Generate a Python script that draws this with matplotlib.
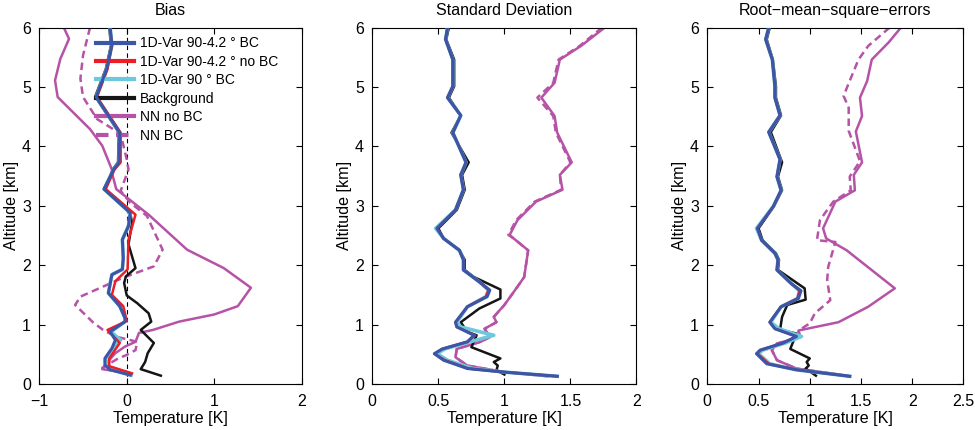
import matplotlib
matplotlib.use("Agg")
import matplotlib.pyplot as plt

plt.rcParams['font.family'] = ['Liberation Sans', 'DejaVu Sans']
plt.rcParams['font.size'] = 10

# ---------------- Bias panel ----------------
bias_blue_alt = [6.0, 5.70, 5.30, 4.83, 4.23, 3.73, 3.61, 3.28, 2.88, 2.66, 2.43, 2.12, 1.93, 1.84, 1.53, 1.31, 1.11, 1.05, 0.88, 0.74, 0.60, 0.43, 0.32, 0.24, 0.15]
bias_blue = [-0.19, -0.17, -0.23, -0.35, -0.08, -0.09, -0.15, -0.26, 0.04, 0.02, -0.05, -0.04, -0.05, -0.17, -0.21, -0.08, -0.02, -0.02, -0.19, -0.13, -0.17, -0.25, -0.25, -0.19, 0.04]
bias_cyan = [-0.19, -0.17, -0.23, -0.35, -0.08, -0.09, -0.15, -0.26, 0.04, 0.02, -0.05, -0.04, -0.05, -0.17, -0.21, -0.08, -0.02, -0.02, -0.18, -0.07, -0.16, -0.24, -0.23, -0.17, 0.05]
bias_red_alt = [6.0, 5.70, 5.30, 4.83, 4.23, 3.73, 3.61, 3.28, 2.85, 2.43, 1.93, 1.73, 1.50, 1.31, 1.06, 0.91, 0.69, 0.43, 0.30, 0.18]
bias_red = [-0.19, -0.17, -0.22, -0.34, -0.07, -0.07, -0.14, -0.24, 0.10, 0.02, 0.01, -0.13, -0.17, -0.04, 0.00, -0.22, -0.08, -0.20, -0.20, 0.06]
bias_black_alt = [6.0, 5.70, 5.30, 4.84, 4.23, 3.73, 3.61, 3.28, 2.88, 2.71, 2.35, 1.95, 1.81, 1.70, 1.49, 1.36, 1.19, 1.05, 0.91, 0.69, 0.52, 0.37, 0.25, 0.14]
bias_black = [-0.20, -0.18, -0.24, -0.36, -0.09, -0.10, -0.16, -0.25, 0.04, 0.06, 0.02, 0.10, -0.01, -0.03, 0.00, 0.12, 0.25, 0.28, 0.16, 0.31, 0.24, 0.21, 0.16, 0.39]
bias_nn_alt = [6.0, 5.81, 5.47, 5.11, 4.83, 4.29, 4.01, 3.61, 3.50, 3.28, 2.85, 2.26, 1.95, 1.62, 1.31, 1.17, 1.05, 0.91, 0.86, 0.71, 0.63, 0.52, 0.35, 0.25, 0.18]
bias_nn = [-0.72, -0.66, -0.76, -0.82, -0.79, -0.42, -0.28, -0.17, -0.16, -0.12, 0.25, 0.69, 1.11, 1.42, 1.27, 1.00, 0.60, 0.30, 0.14, 0.10, -0.02, -0.13, -0.23, -0.28, 0.02]
bias_nnbc_alt = [6.0, 5.53, 5.14, 4.83, 4.46, 4.21, 3.78, 3.61, 3.25, 3.05, 2.83, 2.26, 1.98, 1.79, 1.47, 1.33, 1.03, 0.91, 0.80, 0.71, 0.57, 0.49, 0.42, 0.27, 0.21]
bias_nnbc = [-0.42, -0.50, -0.53, -0.50, -0.34, -0.07, 0.00, 0.02, -0.07, 0.04, 0.23, 0.41, 0.31, -0.04, -0.53, -0.59, -0.38, -0.27, -0.13, 0.12, 0.10, 0.00, -0.11, -0.28, -0.09]

# ---------------- Standard deviation panel ----------------
std_alt = [6.0, 5.80, 5.46, 5.01, 4.82, 4.52, 4.23, 3.73, 3.52, 3.27, 2.93, 2.62, 2.45, 2.25, 2.09, 1.92, 1.72, 1.58, 1.47, 1.30, 1.04, 0.96, 0.82, 0.71, 0.59, 0.51, 0.40, 0.26, 0.20, 0.13]
std_blue = [0.57, 0.555, 0.61, 0.61, 0.57, 0.67, 0.61, 0.71, 0.67, 0.69, 0.63, 0.49, 0.54, 0.66, 0.69, 0.69, 0.81, 0.89, 0.87, 0.72, 0.63, 0.64, 0.77, 0.72, 0.53, 0.47, 0.54, 0.72, 1.00, 1.40]
std_red = [0.57, 0.555, 0.61, 0.61, 0.57, 0.67, 0.61, 0.71, 0.67, 0.69, 0.63, 0.49, 0.54, 0.66, 0.69, 0.69, 0.81, 0.88, 0.86, 0.72, 0.63, 0.64, 0.78, 0.72, 0.53, 0.47, 0.55, 0.73, 1.00, 1.40]
std_cyan = [0.57, 0.555, 0.61, 0.61, 0.57, 0.67, 0.61, 0.71, 0.67, 0.69, 0.63, 0.48, 0.54, 0.66, 0.69, 0.69, 0.81, 0.88, 0.86, 0.72, 0.64, 0.67, 0.92, 0.74, 0.55, 0.49, 0.57, 0.76, 1.00, 1.40]
std_black_alt = [6.0, 5.80, 5.46, 5.01, 4.82, 4.52, 4.23, 3.73, 3.52, 3.27, 2.93, 2.62, 2.45, 2.25, 2.09, 1.92, 1.80, 1.59, 1.44, 1.27, 1.04, 0.875, 0.82, 0.62, 0.43, 0.37, 0.31, 0.23, 0.16]
std_black = [0.58, 0.56, 0.62, 0.62, 0.58, 0.67, 0.60, 0.73, 0.68, 0.70, 0.64, 0.50, 0.54, 0.66, 0.70, 0.70, 0.77, 0.97, 0.97, 0.81, 0.67, 0.72, 0.79, 0.75, 0.97, 0.92, 0.95, 0.94, 1.00]
std_nn_alt = [6.0, 5.69, 5.46, 5.07, 4.82, 4.51, 4.23, 3.73, 3.52, 3.27, 3.07, 2.76, 2.51, 2.45, 2.25, 1.95, 1.80, 1.64, 1.33, 1.13, 1.04, 0.93, 0.79, 0.71, 0.59, 0.45, 0.31, 0.20, 0.13]
std_nn = [1.76, 1.58, 1.42, 1.38, 1.28, 1.38, 1.40, 1.51, 1.42, 1.44, 1.24, 1.10, 1.04, 1.07, 1.18, 1.16, 1.15, 1.10, 1.00, 0.92, 0.94, 0.85, 0.89, 0.82, 0.64, 0.63, 0.72, 1.00, 1.33]
std_nnbc = [1.74, 1.57, 1.41, 1.37, 1.25, 1.37, 1.39, 1.50, 1.42, 1.43, 1.23, 1.09, 1.03, 1.07, 1.18, 1.16, 1.15, 1.10, 1.00, 0.92, 0.94, 0.85, 0.89, 0.82, 0.64, 0.63, 0.72, 1.00, 1.33]

# ---------------- RMSE panel ----------------
rmse_alt = [6.0, 5.80, 5.46, 5.01, 4.82, 4.52, 4.24, 3.78, 3.49, 3.26, 2.99, 2.62, 2.42, 2.20, 2.09, 1.92, 1.69, 1.57, 1.44, 1.30, 1.04, 0.93, 0.80, 0.69, 0.57, 0.51, 0.34, 0.24, 0.13]
rmse_blue = [0.60, 0.57, 0.635, 0.66, 0.66, 0.71, 0.60, 0.71, 0.68, 0.72, 0.645, 0.49, 0.53, 0.66, 0.69, 0.68, 0.82, 0.915, 0.89, 0.72, 0.61, 0.66, 0.87, 0.74, 0.515, 0.48, 0.58, 0.87, 1.39]
rmse_red = [0.60, 0.57, 0.635, 0.66, 0.66, 0.71, 0.60, 0.71, 0.68, 0.72, 0.645, 0.49, 0.53, 0.66, 0.69, 0.68, 0.82, 0.90, 0.88, 0.72, 0.61, 0.66, 0.87, 0.74, 0.52, 0.49, 0.60, 0.87, 1.39]
rmse_cyan = [0.60, 0.57, 0.635, 0.66, 0.66, 0.71, 0.60, 0.71, 0.68, 0.72, 0.645, 0.48, 0.53, 0.66, 0.69, 0.68, 0.82, 0.90, 0.88, 0.72, 0.62, 0.70, 0.92, 0.76, 0.54, 0.50, 0.61, 0.86, 1.39]
rmse_black_alt = [6.0, 5.80, 5.46, 5.01, 4.82, 4.52, 4.24, 3.73, 3.49, 3.26, 2.99, 2.62, 2.42, 2.20, 2.09, 1.92, 1.61, 1.42, 1.33, 1.13, 0.91, 0.85, 0.59, 0.43, 0.37, 0.31, 0.26, 0.14]
rmse_black = [0.61, 0.58, 0.64, 0.67, 0.67, 0.72, 0.62, 0.73, 0.69, 0.73, 0.65, 0.50, 0.54, 0.67, 0.70, 0.69, 0.95, 0.96, 0.78, 0.73, 0.71, 0.87, 0.81, 1.00, 0.97, 0.99, 0.96, 1.06]
rmse_nn_alt = [6.0, 5.75, 5.46, 5.10, 4.82, 4.51, 4.25, 3.73, 3.52, 3.26, 3.07, 2.62, 2.45, 2.25, 1.61, 1.30, 1.04, 0.90, 0.79, 0.68, 0.57, 0.40, 0.26, 0.14]
rmse_nn = [1.89, 1.77, 1.605, 1.56, 1.49, 1.51, 1.45, 1.51, 1.43, 1.44, 1.25, 1.13, 1.16, 1.36, 1.83, 1.57, 1.28, 0.89, 0.905, 0.68, 0.63, 0.68, 0.87, 1.36]
rmse_nnbc_alt = [6.0, 5.69, 5.46, 4.85, 4.65, 4.26, 3.75, 3.49, 3.26, 3.07, 2.76, 2.42, 2.39, 1.97, 1.75, 1.41, 1.19, 1.02, 0.90, 0.79, 0.68, 0.57, 0.40, 0.26, 0.14]
rmse_nnbc = [1.78, 1.57, 1.475, 1.33, 1.38, 1.38, 1.49, 1.39, 1.40, 1.23, 1.10, 1.07, 1.25, 1.18, 1.17, 1.20, 1.05, 1.00, 0.89, 0.905, 0.68, 0.63, 0.68, 0.87, 1.36]

labels = ["1D-Var 90-4.2 \u00b0 BC", "1D-Var 90-4.2 \u00b0 no BC", "1D-Var 90 \u00b0 BC",
          "Background", "NN no BC", "NN BC"]
titles = ["Bias", "Standard Deviation", "Root\u2212mean\u2212square\u2212errors"]

C_BLUE = "#3b56a8"
C_RED = "#ee1c25"
C_CYAN = "#6cc9dc"
C_BLACK = "#151515"
C_MAG = "#b653a6"
DASH = (0, (3.0, 1.8))

fig = plt.figure(figsize=(9.75, 4.30), dpi=100)
bottom, height = 0.107, 0.829
ax1 = fig.add_axes([0.0403, bottom, 0.2691, height])
ax2 = fig.add_axes([0.3818, bottom, 0.2710, height])
ax3 = fig.add_axes([0.7254, bottom, 0.2628, height])


def draw(ax, blue, red, cyan, black, nn, nnbc):
    h = {}
    h['nn'], = ax.plot(nn[0], nn[1], color=C_MAG, lw=1.8, zorder=2)
    h['nnbc'], = ax.plot(nnbc[0], nnbc[1], color=C_MAG, lw=1.8, ls=DASH, zorder=2)
    h['black'], = ax.plot(black[0], black[1], color=C_BLACK, lw=1.8, zorder=3)
    h['cyan'], = ax.plot(cyan[0], cyan[1], color=C_CYAN, lw=2.6, zorder=4)
    h['red'], = ax.plot(red[0], red[1], color=C_RED, lw=1.8, zorder=5)
    h['blue'], = ax.plot(blue[0], blue[1], color=C_BLUE, lw=2.2, zorder=6)
    return h


ax1.axvline(0, color='black', lw=0.8, ls=(0, (4, 3)), zorder=1)
h = draw(ax1,
         (bias_blue, bias_blue_alt), (bias_red, bias_red_alt), (bias_cyan, bias_blue_alt),
         (bias_black, bias_black_alt), (bias_nn, bias_nn_alt), (bias_nnbc, bias_nnbc_alt))
draw(ax2,
     (std_blue, std_alt), (std_red, std_alt), (std_cyan, std_alt),
     (std_black, std_black_alt), (std_nn, std_nn_alt), (std_nnbc, std_nn_alt))
draw(ax3,
     (rmse_blue, rmse_alt), (rmse_red, rmse_alt), (rmse_cyan, rmse_alt),
     (rmse_black, rmse_black_alt), (rmse_nn, rmse_nn_alt), (rmse_nnbc, rmse_nnbc_alt))

ax1.set_xlim(-1, 2)
ax1.set_xticks([-1, 0, 1, 2])
ax2.set_xlim(0, 2)
ax2.set_xticks([0, 0.5, 1, 1.5, 2])
ax2.set_xticklabels(["0", "0.5", "1", "1.5", "2"])
ax3.set_xlim(0, 2.5)
ax3.set_xticks([0, 0.5, 1, 1.5, 2, 2.5])
ax3.set_xticklabels(["0", "0.5", "1", "1.5", "2", "2.5"])

for ax, t in zip([ax1, ax2, ax3], titles):
    ax.set_ylim(0, 6)
    ax.set_yticks(range(0, 7))
    ax.set_title(t, fontsize=11.5, pad=9)
    ax.set_xlabel("Temperature [K]", fontsize=11.6, labelpad=2)
    ax.set_ylabel("Altitude [km]", fontsize=11.6, labelpad=2)
    ax.tick_params(axis='both', direction='in', top=True, right=True, length=4, width=0.8,
                   labelsize=11.5)
    ax.tick_params(axis='x', pad=7)
    ax.tick_params(axis='y', pad=6)
    for s in ax.spines.values():
        s.set_linewidth(0.8)

handles = [h['blue'], h['red'], h['cyan'], h['black'], h['nn'], h['nnbc']]
leg = ax1.legend(handles, labels, loc='upper left', bbox_to_anchor=(0.215, 0.975),
                 frameon=False, fontsize=10, handlelength=2.75, handletextpad=0.45,
                 labelspacing=0.32, borderpad=0, borderaxespad=0)
for lh in leg.get_lines():
    lh.set_linewidth(3.0)

fig.savefig("out.png", dpi=100)
